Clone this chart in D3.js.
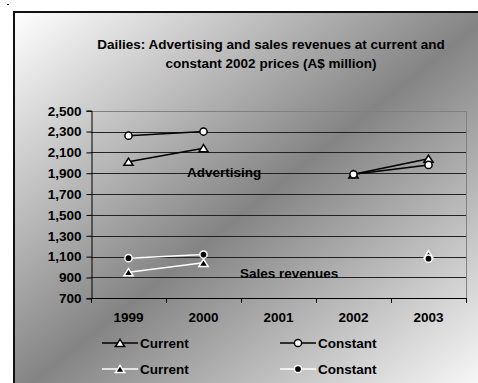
<!DOCTYPE html>
<html>
<head>
<meta charset="utf-8">
<script src="https://cdn.jsdelivr.net/npm/d3@7/dist/d3.min.js"></script>
<style>
  html, body { margin: 0; padding: 0; background: #fff; }
  svg { display: block; }
  text { font-family: Arial, "Liberation Sans", sans-serif; font-weight: bold; fill: #000; }
</style>
</head>
<body>
<svg id="chart" width="478" height="383"></svg>
<script>
// Dailies revenue (A$ million)
const years = ["1999", "2000", "2001", "2002", "2003"];
const advertisingCurrent  = [2010, 2140, null, 1890, 2040];
const advertisingConstant = [2260, 2300, null, 1890, 1980];
const salesCurrent        = [950, 1040, null, null, 1120];
const salesConstant       = [1085, 1120, null, null, 1080];
const yTicks = [700, 900, 1100, 1300, 1500, 1700, 1900, 2100, 2300, 2500];
const titleLines = [
  "Dailies: Advertising and sales revenues at current and",
  "constant 2002 prices (A$ million)"
];

const svg = d3.select("#chart");
const W = 478, H = 383;
const plot = { left: 91, right: 466, top: 110.7, bottom: 298.3 };

// Diagonal two-tone fill of the chart area
const defs = svg.append("defs");
const grad = defs.append("linearGradient")
  .attr("id", "bg").attr("x1", 0).attr("y1", 0).attr("x2", 1).attr("y2", 1);
grad.append("stop").attr("offset", 0).attr("stop-color", "#ffffff");
grad.append("stop").attr("offset", 0.5).attr("stop-color", "#848484");
grad.append("stop").attr("offset", 1).attr("stop-color", "#ffffff");

svg.append("rect")
  .attr("x", 14).attr("y", 12).attr("width", 480).attr("height", 385)
  .attr("fill", "url(#bg)").attr("stroke", "#111").attr("stroke-width", 2);

svg.append("rect").attr("x", 7).attr("y", 4).attr("width", 2).attr("height", 1).attr("fill", "#000");

// Title
svg.append("g").selectAll("text").data(titleLines).join("text")
  .attr("x", 271).attr("y", (d, i) => 44 + i * 19.5)
  .attr("dy", "0.35em").attr("text-anchor", "middle")
  .style("font-size", "13.5px").text(d => d);

// Scales
const x = d3.scaleBand().domain(years).range([plot.left, plot.right]);
const cx = d => x(d) + x.bandwidth() / 2;
const y = d3.scaleLinear().domain([700, 2500]).range([plot.bottom, plot.top]);

// Gridlines
svg.append("g").selectAll("line").data(yTicks.slice(1, -1)).join("line")
  .attr("x1", plot.left).attr("x2", plot.right)
  .attr("y1", d => Math.round(y(d)) + 0.5).attr("y2", d => Math.round(y(d)) + 0.5)
  .attr("stroke", "#222").attr("stroke-width", 1);

// Plot border (top and right)
svg.append("path")
  .attr("d", `M${plot.left},${Math.round(plot.top) + 0.5}H${plot.right + 0.5}V${plot.bottom}`)
  .attr("fill", "none").attr("stroke", "#808080").attr("stroke-width", 1);

// Y axis
const yAxis = d3.axisLeft(y).tickValues(yTicks).tickFormat(d3.format(",")).tickSize(5).tickPadding(5);
const gy = svg.append("g").attr("transform", `translate(${plot.left + 0.5},0)`).call(yAxis);
gy.select(".domain").attr("stroke", "#000");
gy.selectAll(".tick line").attr("stroke", "#000");
gy.selectAll(".tick text").style("font-size", "13.5px").attr("fill", "#000")
  .style("font-family", "Arial, 'Liberation Sans', sans-serif").style("font-weight", "bold");

// X axis: labels at band centres, ticks at band boundaries
const xAxis = d3.axisBottom(x).tickSize(0).tickPadding(14);
const gx = svg.append("g").attr("transform", `translate(0,${Math.round(plot.bottom) + 0.5})`).call(xAxis);
gx.select(".domain").remove();
gx.selectAll(".tick text").style("font-size", "13.5px").attr("fill", "#000")
  .style("font-family", "Arial, 'Liberation Sans', sans-serif").style("font-weight", "bold");
svg.append("line")
  .attr("x1", plot.left).attr("x2", plot.right + 1)
  .attr("y1", Math.round(plot.bottom) + 0.5).attr("y2", Math.round(plot.bottom) + 0.5)
  .attr("stroke", "#000");
const bounds = years.map(d => x(d)).concat([x.range()[1]]);
svg.append("g").selectAll("line").data(bounds).join("line")
  .attr("x1", d => Math.round(d) + 0.5).attr("x2", d => Math.round(d) + 0.5)
  .attr("y1", Math.round(plot.bottom)).attr("y2", Math.round(plot.bottom) + 5)
  .attr("stroke", "#000");

// Series
const triangle = "M0,-3.6L4.6,3.6L-4.6,3.6Z";
const series = [
  { values: advertisingCurrent,  line: "#000", fill: "#fff", edge: "#000", marker: "triangle", label: "Current" },
  { values: advertisingConstant, line: "#000", fill: "#fff", edge: "#000", marker: "circle",   label: "Constant" },
  { values: salesCurrent,        line: "#fff", fill: "#000", edge: "#fff", marker: "triangle", label: "Current" },
  { values: salesConstant,       line: "#fff", fill: "#000", edge: "#fff", marker: "circle",   label: "Constant" }
];

const lineGen = d3.line()
  .defined(d => d.v !== null)
  .x(d => cx(d.year)).y(d => y(d.v));

function drawMarker(g, s, px, py) {
  if (s.marker === "triangle") {
    g.append("path").attr("d", triangle)
      .attr("transform", `translate(${px},${py})`)
      .attr("fill", s.fill).attr("stroke", s.edge).attr("stroke-width", 1.5);
  } else {
    g.append("circle").attr("cx", px).attr("cy", py).attr("r", 3.6)
      .attr("fill", s.fill).attr("stroke", s.edge).attr("stroke-width", 1.5);
  }
}

series.forEach(s => {
  const pts = years.map((yr, i) => ({ year: yr, v: s.values[i] }));
  const g = svg.append("g");
  g.append("path").datum(pts).attr("d", lineGen)
    .attr("fill", "none").attr("stroke", s.line).attr("stroke-width", 1.5);
  pts.filter(p => p.v !== null).forEach(p => drawMarker(g, s, cx(p.year), y(p.v)));
});

// Group labels
svg.append("text").attr("x", 187).attr("y", 172).attr("dy", "0.35em")
  .style("font-size", "13.5px").text("Advertising");
svg.append("text").attr("x", 240).attr("y", 273).attr("dy", "0.35em")
  .style("font-size", "13.5px").text("Sales revenues");

// Legend
const legendPos = [
  { x: 102, y: 343 }, { x: 280, y: 343 },
  { x: 102, y: 369 }, { x: 280, y: 369 }
];
series.forEach((s, i) => {
  const p = legendPos[i];
  const g = svg.append("g");
  g.append("line").attr("x1", p.x).attr("x2", p.x + 36).attr("y1", p.y).attr("y2", p.y)
    .attr("stroke", s.line).attr("stroke-width", 1.5);
  drawMarker(g, s, p.x + 18, p.y);
  g.append("text").attr("x", p.x + 38).attr("y", p.y).attr("dy", "0.35em")
    .style("font-size", "13.5px").text(s.label);
});
</script>
</body>
</html>
